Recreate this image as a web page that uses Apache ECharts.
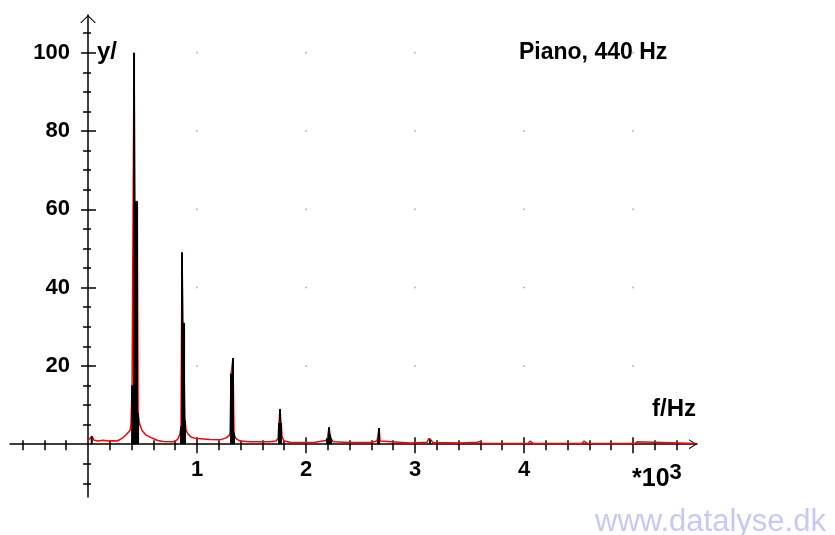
<!DOCTYPE html>
<html>
<head>
<meta charset="utf-8">
<script src="https://cdn.jsdelivr.net/npm/echarts@6/dist/echarts.min.js"></script>
<style>
  html, body { margin: 0; padding: 0; background: #fff; }
  #chart { width: 835px; height: 535px; }
</style>
</head>
<body>
<div id="chart"></div>
<script>
// spectrum, red curve (f in Hz, amplitude)
const redFreq = [0, 18, 37, 55, 92, 138, 183, 229, 266, 294, 321, 349, 367, 385, 394, 404, 413, 422, 431, 440, 450, 459, 468, 477, 495, 505, 532, 569, 633, 688, 780, 807, 826, 844, 853, 862, 872, 881, 890, 899, 917, 945, 982, 1028, 1119, 1211, 1266, 1294, 1303, 1312, 1321, 1330, 1339, 1358, 1394, 1486, 1578, 1670, 1725, 1743, 1752, 1761, 1771, 1780, 1798, 1853, 1945, 2083, 2193, 2202, 2211, 2220, 2229, 2248, 2404, 2587, 2651, 2661, 2670, 2679, 2697, 2954, 3110, 3128, 3138, 3147, 3165, 3413, 3569, 3587, 3596, 3615, 4037, 4055, 4064, 4083, 4532, 4550, 4560, 4578, 5018, 5037, 5055, 5569];
const redAmp = [1.0, 1.3, 2.0, 1.0, 0.8, 1.0, 0.8, 0.9, 0.8, 1.2, 1.7, 2.4, 2.9, 3.5, 5.0, 15, 15, 100, 62, 62, 62, 8, 6, 4.8, 3.5, 3.0, 2.3, 1.8, 1.0, 0.7, 0.6, 0.9, 1.4, 2.8, 4.5, 49, 31, 31, 6, 3.5, 2.6, 1.8, 1.5, 1.4, 1.2, 1.1, 1.6, 2.2, 2.9, 18, 18, 22, 2.5, 1.4, 0.8, 0.6, 0.6, 0.6, 0.8, 1.5, 5.4, 9, 5.4, 1.9, 0.8, 0.5, 0.4, 0.5, 1.0, 1.5, 4.3, 2.5, 1.5, 0.6, 0.4, 0.4, 0.8, 1.2, 4.1, 0.8, 0.4, 0.3, 0.5, 1.5, 1.9, 1.0, 0.4, 0.3, 0.5, 1.0, 0.7, 0.2, 0.2, 0.8, 0.5, 0.2, 0.2, 0.8, 0.4, 0.2, 0.2, 0.6, 0.2, 0.2];

// black spikes
const spikeFreq = [34, 404, 413, 422, 431, 440, 450, 459, 853, 862, 872, 881, 890, 1312, 1321, 1330, 1339, 1752, 1761, 1771, 2193, 2202, 2211, 2220, 2229, 2661, 2670, 3138];
const spikeAmp = [2.0, 15, 15, 100, 62, 62, 62, 8, 4.5, 49, 31, 31, 6, 18, 18, 22, 3, 5.4, 9, 5.4, 1.5, 1.5, 4.3, 2.5, 1.5, 1.2, 4.1, 1.2];

// ticks
const xMajor = [1000, 2000, 3000, 4000, 5000];
const xLabels = [1000, 2000, 3000, 4000];
const xMinor = [-600, -400, -200, 200, 400, 600, 800, 1200, 1400, 1600, 1800, 2200, 2400, 2600, 2800, 3200, 3400, 3600, 3800, 4200, 4400, 4600, 4800, 5200, 5400];
const yMajor = [20, 40, 60, 80, 100];
const yMinor = [-10, -5, 5, 10, 15, 25, 30, 35, 45, 50, 55, 65, 70, 75, 85, 90, 95, 105];

const X_MIN = -716, X_MAX = 5587;
const Y_MIN = -13.5, Y_MAX = 109.66;

// plot box in px; axes cross at (0, 0)
const G = { left: 10, right: 697, top: 15, bottom: 497 };
const zeroX = G.left + (0 - X_MIN) / (X_MAX - X_MIN) * (G.right - G.left);
const zeroY = G.bottom - (0 - Y_MIN) / (Y_MAX - Y_MIN) * (G.bottom - G.top);

const chevronH = 'path://M0,8 L5,0 L10,8 L8.8,8 L5,1.8 L1.2,8 Z';
const chevronV = 'path://M0,8 L8,0 L16,8 L14.6,8 L8,1.6 L1.4,8 Z';
const labelFont = { color: '#000', fontFamily: 'Liberation Sans, Arial', fontWeight: 'bold', fontSize: 22 };

function xAx(ticks, inside, len, withLine) {
  return {
    type: 'value', min: X_MIN, max: X_MAX, position: 'bottom',
    offset: zeroY - G.bottom,
    axisLine: {
      show: withLine, onZero: false,
      symbol: ['none', chevronH], symbolSize: [10, 8], symbolOffset: [0, -4],
      lineStyle: { color: '#000', width: 1.5 }
    },
    axisTick: { show: true, inside: inside, length: len, customValues: ticks, lineStyle: { color: '#000', width: 1.5 } },
    axisLabel: withLine ? Object.assign({
      show: true, margin: 15, customValues: xLabels,
      formatter: v => String(v / 1000)
    }, labelFont) : { show: false },
    splitLine: { show: false }
  };
}

function yAx(ticks, inside, len, withLine) {
  return {
    type: 'value', min: Y_MIN, max: Y_MAX, position: 'left',
    offset: G.left - zeroX,
    axisLine: {
      show: withLine, onZero: false,
      symbol: ['none', chevronV], symbolSize: [16, 8], symbolOffset: [0, -4],
      lineStyle: { color: '#000', width: 1.5 }
    },
    axisTick: { show: true, inside: inside, length: len, customValues: ticks, lineStyle: { color: '#000', width: 1.5 } },
    axisLabel: withLine ? Object.assign({
      show: true, margin: 18, customValues: yMajor
    }, labelFont) : { show: false },
    splitLine: { show: false }
  };
}

// grid dots at the major intersections
const dots = [];
xMajor.forEach(x => yMajor.forEach(y => dots.push([x, y])));

const chart = echarts.init(document.getElementById('chart'));
chart.setOption({
  animation: false,
  backgroundColor: '#fff',
  grid: {
    left: G.left, right: 835 - G.right, top: G.top, bottom: 535 - G.bottom,
    containLabel: false, outerBoundsMode: 'none'
  },
  xAxis: [
    xAx(xMinor, true, 4, true),
    xAx(xMinor, false, 6, false),
    xAx(xMajor, true, 7, false),
    xAx(xMajor, false, 9, false)
  ],
  yAxis: [
    yAx(yMinor, false, 5, true),
    yAx(yMinor, true, 3, false),
    yAx(yMajor, false, 7, false),
    yAx(yMajor, true, 8, false)
  ],
  title: [
    { text: 'Piano, 440 Hz', left: 519, top: 41, padding: 0,
      textStyle: { color: '#000', fontFamily: 'Liberation Sans, Arial', fontWeight: 'bold', fontSize: 23 } },
    { text: 'y/', left: 97, top: 40, padding: 0,
      textStyle: { color: '#000', fontFamily: 'Liberation Sans, Arial', fontWeight: 'bold', fontSize: 24 } },
    { text: 'f/Hz', left: 652, top: 397, padding: 0,
      textStyle: { color: '#000', fontFamily: 'Liberation Sans, Arial', fontWeight: 'bold', fontSize: 24 } },
    { text: '{a|*10}{b|3}', left: 632, top: 462, padding: 0,
      textStyle: { rich: {
        a: { color: '#000', fontFamily: 'Liberation Sans, Arial', fontWeight: 'bold', fontSize: 25, verticalAlign: 'bottom', lineHeight: 30 },
        b: { color: '#000', fontFamily: 'Liberation Sans, Arial', fontWeight: 'bold', fontSize: 22, verticalAlign: 'top', lineHeight: 30, padding: [0, 0, 10, 0] }
      } } },
    { text: 'www.datalyse.dk', left: 595, top: 507, padding: 0,
      textStyle: { color: '#c8c8f6', fontFamily: 'Liberation Sans, Arial', fontWeight: 'normal', fontSize: 31 } }
  ],
  series: [
    {
      type: 'scatter', data: dots, symbolSize: 2, silent: true,
      itemStyle: { color: '#a8a8a8' }
    },
    {
      type: 'line', z: 2, data: redFreq.map((f, i) => [f, redAmp[i]]),
      showSymbol: false, lineStyle: { color: '#ff0000', width: 1.5 }
    },
    {
      type: 'bar', z: 4, data: spikeFreq.map((f, i) => [f, spikeAmp[i]]),
      barWidth: 2, itemStyle: { color: '#000' }
    }
  ]
});
</script>
</body>
</html>
